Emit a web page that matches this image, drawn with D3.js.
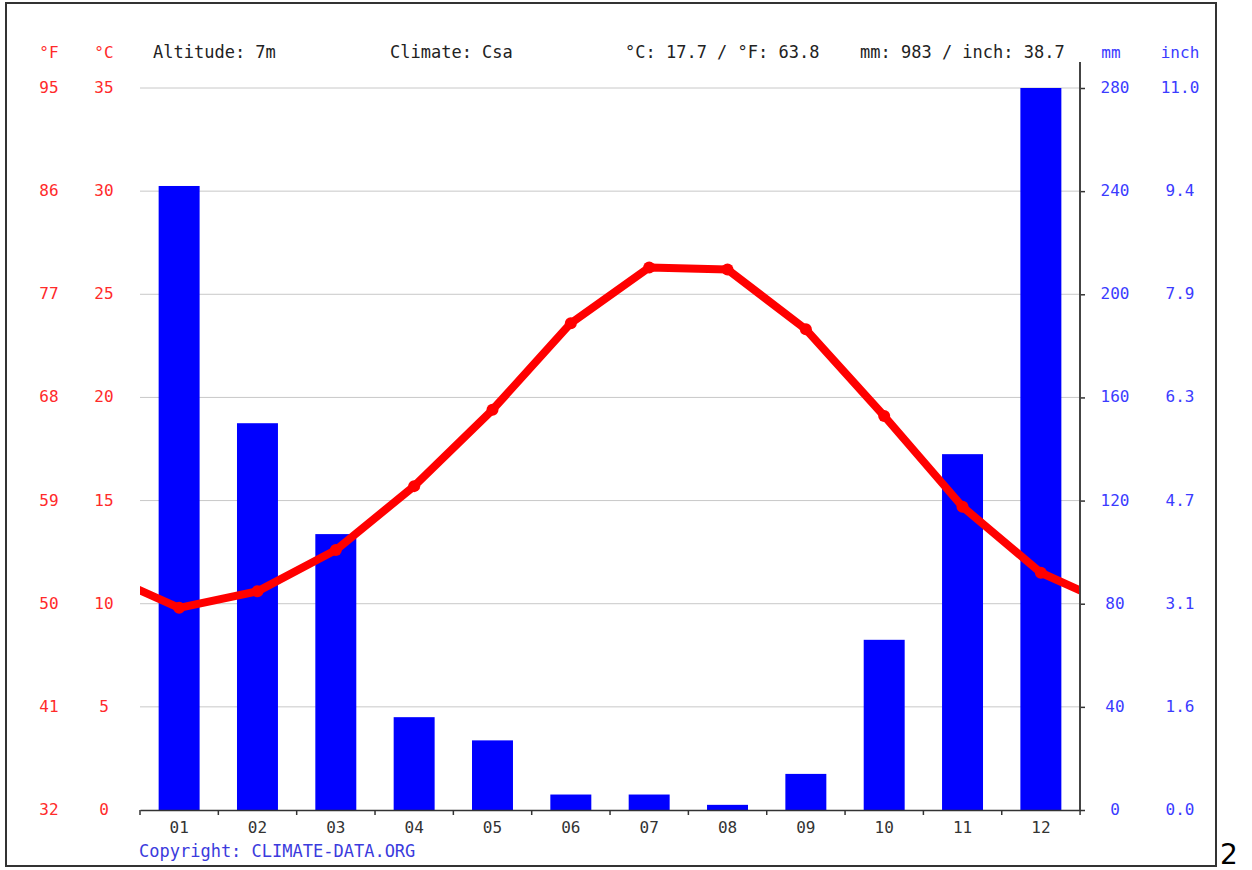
<!DOCTYPE html>
<html><head><meta charset="utf-8">
<script src="https://cdn.jsdelivr.net/npm/d3@7"></script>
<style>
body{margin:0;background:#fff;}
text{font-family:"DejaVu Sans Mono",monospace;}
</style></head>
<body>
<svg id="c" width="1252" height="870"></svg>
<script>
const months = ["01","02","03","04","05","06","07","08","09","10","11","12"];
const precipMm = [242,150,107,36,27,6,6,2,14,66,138,280];
const tempC = [9.8,10.6,12.6,15.7,19.4,23.6,26.3,26.2,23.3,19.1,14.7,11.5];
const tempTicksC = [0,5,10,15,20,25,30,35];
const tempTicksF = ["32","41","50","59","68","77","86","95"];
const precipTicksMm = [0,40,80,120,160,200,240,280];
const precipTicksInch = ["0.0","1.6","3.1","4.7","6.3","7.9","9.4","11.0"];
const headerTexts = ["Altitude: 7m","Climate: Csa","°C: 17.7 / °F: 63.8","mm: 983 / inch: 38.7"];

const svg = d3.select("#c");
const L = 140, R = 1080, T = 88, B = 810;

// frame
svg.append("rect").attr("x",6).attr("y",3).attr("width",1210).attr("height",863)
  .attr("fill","none").attr("stroke","#333").attr("stroke-width",2);

const x = d3.scaleBand().domain(months).range([L,R]).paddingInner(0.477).paddingOuter(0.238);
const yT = d3.scaleLinear().domain([0,35]).range([B,T]);
const yP = d3.scaleLinear().domain([0,280]).range([B,T]);

// gridlines
svg.append("g").selectAll("line").data(tempTicksC.slice(1)).join("line")
  .attr("x1",L).attr("x2",R).attr("y1",d=>yT(d)).attr("y2",d=>yT(d))
  .attr("stroke","#c8c8c8").attr("stroke-width",1);

// bars
svg.append("g").selectAll("rect").data(months).join("rect")
  .attr("x",d=>x(d)).attr("width",x.bandwidth())
  .attr("y",(d,i)=>yP(Math.min(precipMm[i],280)))
  .attr("height",(d,i)=>B-yP(Math.min(precipMm[i],280)))
  .attr("fill","#0000ff");

// temperature line, extended with wrap-around values and clipped
svg.append("clipPath").attr("id","clip").append("rect")
  .attr("x",L).attr("y",0).attr("width",R-L).attr("height",B);
const step = x.step();
const cx = i => x(months[i]) + x.bandwidth()/2;
const pts = [[cx(0)-step, tempC[11]]].concat(tempC.map((t,i)=>[cx(i),t])).concat([[cx(11)+step,tempC[0]]]);
svg.append("path").attr("clip-path","url(#clip)")
  .attr("d", d3.line().x(d=>d[0]).y(d=>yT(d[1]))(pts))
  .attr("fill","none").attr("stroke","#ff0000").attr("stroke-width",8).attr("stroke-linejoin","round");
svg.append("g").selectAll("circle").data(tempC).join("circle")
  .attr("cx",(d,i)=>cx(i)).attr("cy",d=>yT(d)).attr("r",6).attr("fill","#ff0000");

// bottom axis
const xAxis = d3.axisBottom(x).tickSize(0).tickPadding(12);
const gx = svg.append("g").attr("transform",`translate(0,${B})`).call(xAxis);
gx.select(".domain").attr("stroke","#333").attr("stroke-width",1.5);
gx.selectAll("text").attr("font-size",16).attr("fill","#333").attr("font-family","DejaVu Sans Mono");
const bounds = d3.range(13).map(i=>L + i*step);
svg.append("g").selectAll("line").data(bounds).join("line")
  .attr("x1",d=>d).attr("x2",d=>d).attr("y1",B).attr("y2",B+5).attr("stroke","#333").attr("stroke-width",1.5);

// right axis
const yAxisR = d3.axisRight(yP).tickValues(precipTicksMm).tickSize(5).tickFormat("");
const gr = svg.append("g").attr("transform",`translate(${R},0)`).call(yAxisR);
gr.select(".domain").remove();
gr.selectAll("line").attr("stroke","#333").attr("stroke-width",1.5);
svg.append("line").attr("x1",R).attr("x2",R).attr("y1",62).attr("y2",B).attr("stroke","#444").attr("stroke-width",2);

// tick labels
const lab = svg.append("g").attr("font-size",16);
lab.selectAll(".f").data(tempTicksC).join("text").attr("class","f")
  .attr("x",49).attr("y",d=>yT(d)+5).attr("text-anchor","middle").attr("fill","#ff2a2a")
  .text((d,i)=>tempTicksF[i]);
lab.selectAll(".c").data(tempTicksC).join("text").attr("class","c")
  .attr("x",104).attr("y",d=>yT(d)+5).attr("text-anchor","middle").attr("fill","#ff2a2a")
  .text(d=>d);
lab.selectAll(".mm").data(precipTicksMm).join("text").attr("class","mm")
  .attr("x",1115).attr("y",d=>yP(d)+5).attr("text-anchor","middle").attr("fill","#3b3bff")
  .text(d=>d);
lab.selectAll(".in").data(precipTicksMm).join("text").attr("class","in")
  .attr("x",1180).attr("y",d=>yP(d)+5).attr("text-anchor","middle").attr("fill","#3b3bff")
  .text((d,i)=>precipTicksInch[i]);

// unit headers
const hy = 58;
lab.append("text").attr("x",49).attr("y",hy).attr("text-anchor","middle").attr("fill","#ff2a2a").text("°F");
lab.append("text").attr("x",104).attr("y",hy).attr("text-anchor","middle").attr("fill","#ff2a2a").text("°C");
lab.append("text").attr("x",1111).attr("y",hy).attr("text-anchor","middle").attr("fill","#3b3bff").text("mm");
lab.append("text").attr("x",1180).attr("y",hy).attr("text-anchor","middle").attr("fill","#3b3bff").text("inch");

// header texts
const hx = [153,390,625,860];
svg.append("g").attr("font-size",17).attr("fill","#222").selectAll("text").data(headerTexts).join("text")
  .attr("x",(d,i)=>hx[i]).attr("y",hy).text(d=>d);

// copyright
svg.append("text").attr("x",139).attr("y",857).attr("font-size",17).attr("fill","#3b3bdd")
  .text("Copyright: CLIMATE-DATA.ORG");

// stray digit
svg.append("text").attr("x",1220).attr("y",864).attr("font-size",28).attr("fill","#000")
  .style("font-family","DejaVu Sans").text("2");
</script>
</body></html>
